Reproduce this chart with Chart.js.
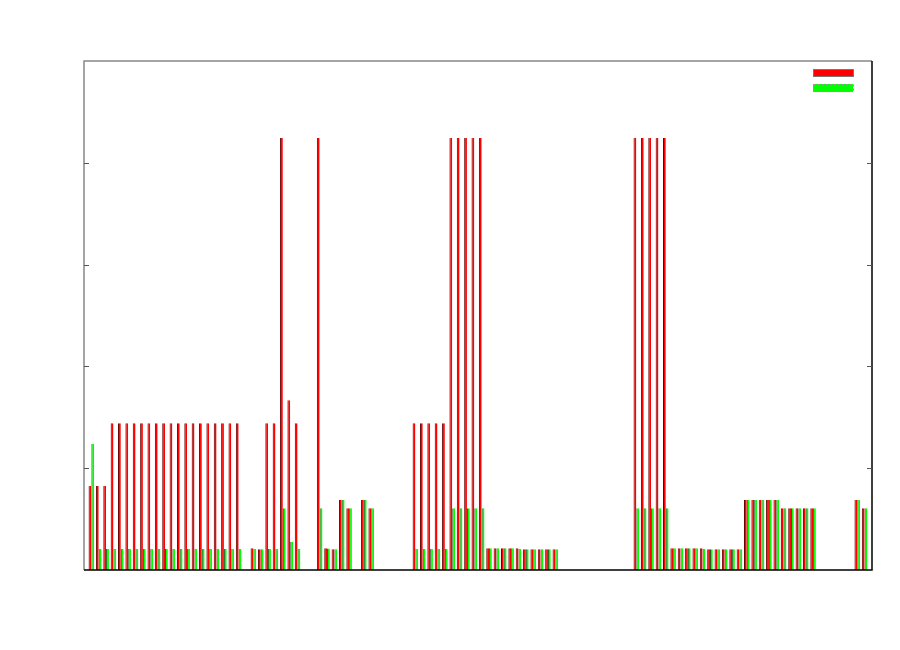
<!DOCTYPE html>
<html>
<head>
<meta charset="utf-8">
<script src="https://cdn.jsdelivr.net/npm/chart.js@4.4.0/dist/chart.umd.min.js"></script>
<style>
    html, body { margin: 0; padding: 0; background: #fff; }
</style>
</head>
<body>
<canvas id="chart" width="900" height="650"></canvas>
<script>
// 106 unlabeled categories, a few empty slots (null) in between
const categories = Array.from({ length: 106 }, (_, i) => String(i + 1));

const redValues = [
    0.825, 0.825, 0.825,
    1.441, 1.441, 1.441, 1.441, 1.441, 1.441, 1.441, 1.441, 1.441,
    1.441, 1.441, 1.441, 1.441, 1.441, 1.441, 1.441, 1.441, 1.441,
    null,
    0.213, 0.203, 1.441, 1.441, 4.244, 1.667, 1.441,
    null, null,
    4.244, 0.213, 0.203, 0.688, 0.606,
    null,
    0.688, 0.606,
    null, null, null, null, null,
    1.441, 1.441, 1.441, 1.441, 1.441,
    4.244, 4.244, 4.244, 4.244, 4.244,
    0.213, 0.213, 0.213, 0.213, 0.213,
    0.203, 0.203, 0.203, 0.203, 0.203,
    null, null, null, null, null, null, null, null, null, null,
    4.244, 4.244, 4.244, 4.244, 4.244,
    0.213, 0.213, 0.213, 0.213, 0.213,
    0.203, 0.203, 0.203, 0.203, 0.203,
    0.688, 0.688, 0.688, 0.688, 0.688,
    0.606, 0.606, 0.606, 0.606, 0.606,
    null, null, null, null, null,
    0.688, 0.606
];

const greenValues = [
    1.238, 0.206, 0.206,
    0.206, 0.206, 0.206, 0.206, 0.206, 0.206, 0.206, 0.206, 0.206,
    0.206, 0.206, 0.206, 0.206, 0.206, 0.206, 0.206, 0.206, 0.206,
    null,
    0.206, 0.203, 0.206, 0.206, 0.606, 0.275, 0.206,
    null, null,
    0.606, 0.210, 0.203, 0.688, 0.606,
    null,
    0.688, 0.606,
    null, null, null, null, null,
    0.206, 0.206, 0.206, 0.206, 0.206,
    0.606, 0.606, 0.606, 0.606, 0.606,
    0.213, 0.213, 0.213, 0.213, 0.206,
    0.203, 0.203, 0.203, 0.203, 0.203,
    null, null, null, null, null, null, null, null, null, null,
    0.606, 0.606, 0.606, 0.606, 0.606,
    0.213, 0.213, 0.213, 0.213, 0.206,
    0.203, 0.203, 0.203, 0.203, 0.203,
    0.688, 0.688, 0.688, 0.688, 0.688,
    0.606, 0.606, 0.606, 0.606, 0.606,
    null, null, null, null, null,
    0.688, 0.606
];

const yTicks = [1, 2, 3, 4];

// frame, inward ticks and the small key in the top right corner
const framePlugin = {
    id: 'frame',
    afterDraw(chart) {
        const { ctx, chartArea: a, scales } = chart;
        ctx.save();
        ctx.lineWidth = 1.5;
        ctx.strokeStyle = '#888';
        ctx.beginPath();
        ctx.moveTo(a.left, a.bottom);
        ctx.lineTo(a.left, a.top);
        ctx.lineTo(a.right, a.top);
        ctx.stroke();
        ctx.strokeStyle = '#000';
        ctx.beginPath();
        ctx.moveTo(a.right, a.top);
        ctx.lineTo(a.right, a.bottom);
        ctx.lineTo(a.left, a.bottom);
        ctx.stroke();

        ctx.lineWidth = 1;
        yTicks.forEach((t) => {
            const y = Math.round(scales.y.getPixelForValue(t)) + 0.5;
            ctx.strokeStyle = '#555';
            ctx.beginPath();
            ctx.moveTo(a.left, y);
            ctx.lineTo(a.left + 5, y);
            ctx.moveTo(a.right - 5, y);
            ctx.lineTo(a.right, y);
            ctx.stroke();
        });

        const kx = a.right - 59;
        ctx.fillStyle = '#ff0000';
        ctx.fillRect(kx, a.top + 8, 40, 8);
        ctx.strokeStyle = '#777';
        ctx.strokeRect(kx + 0.5, a.top + 8.5, 40, 7);
        ctx.fillStyle = '#00ff00';
        ctx.fillRect(kx, a.top + 23, 40, 8);
        ctx.setLineDash([2, 2]);
        ctx.strokeStyle = '#999';
        ctx.strokeRect(kx + 0.5, a.top + 23.5, 40, 7);
        ctx.restore();
    }
};

new Chart(document.getElementById('chart'), {
    type: 'bar',
    data: {
        labels: ['', ...categories, ''],
        datasets: [
            {
                label: 'red',
                data: [null, ...redValues, null],
                backgroundColor: '#ff0000',
                borderColor: '#6a0000',
                borderWidth: { left: 1, top: 0, right: 0, bottom: 0 },
                borderSkipped: false
            },
            {
                label: 'green',
                data: [null, ...greenValues, null],
                backgroundColor: '#00ff00',
                borderColor: '#1f5f1f',
                borderWidth: { left: 1, top: 0, right: 0, bottom: 0 },
                borderSkipped: false
            }
        ]
    },
    options: {
        responsive: false,
        animation: false,
        categoryPercentage: 0.76,
        barPercentage: 1,
        layout: { padding: { left: 84, right: 28, top: 61, bottom: 80 } },
        plugins: {
            legend: { display: false },
            tooltip: { enabled: false }
        },
        scales: {
            x: { display: false, offset: false },
            y: { display: false, min: 0, max: 5 }
        }
    },
    plugins: [framePlugin]
});
</script>
</body>
</html>
